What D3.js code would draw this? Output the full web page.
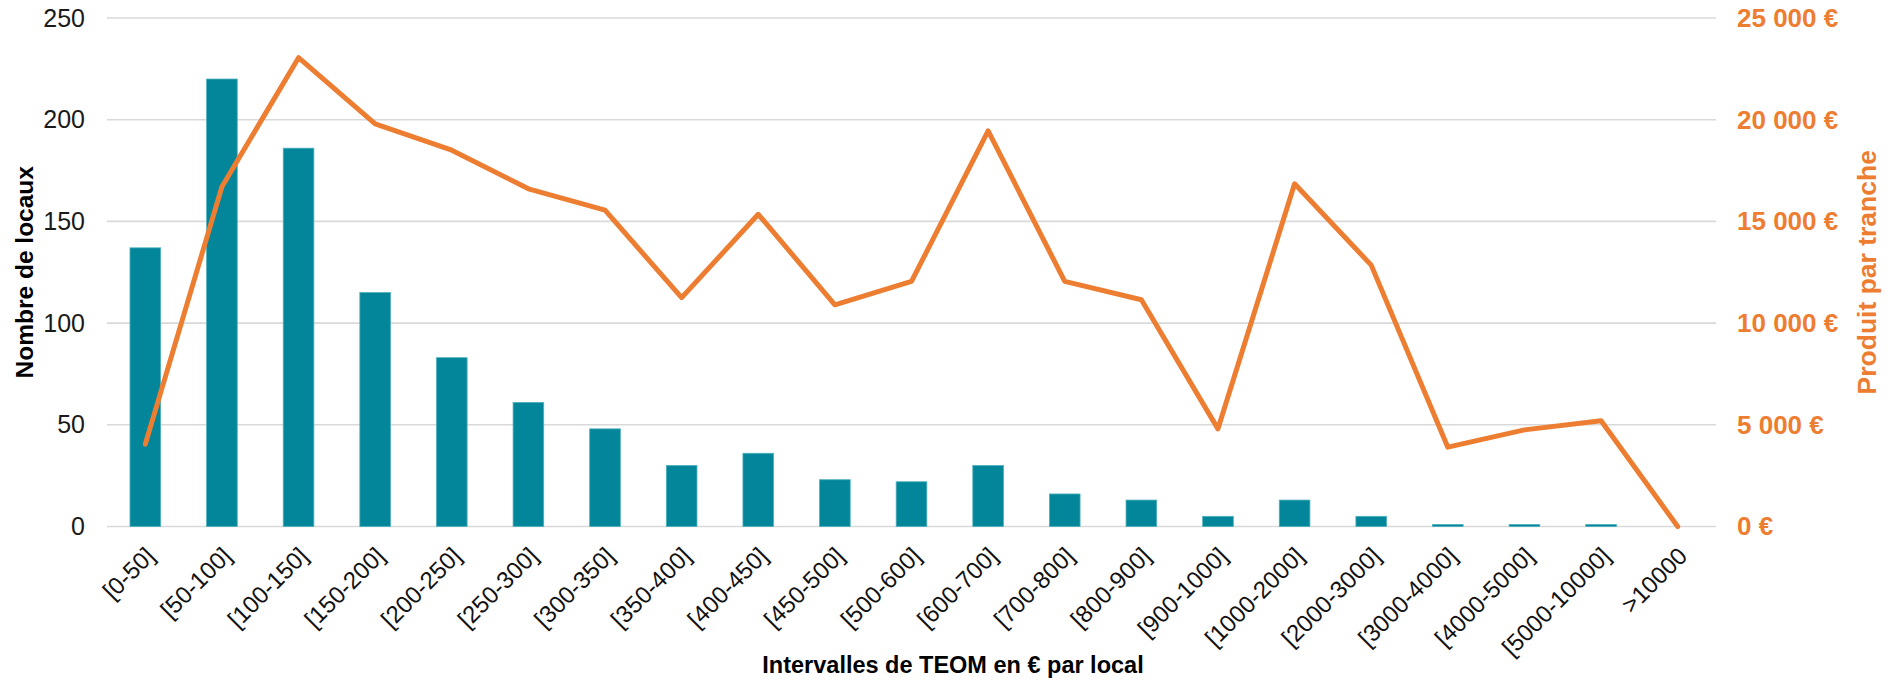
<!DOCTYPE html>
<html>
<head>
<meta charset="utf-8">
<script src="https://cdn.jsdelivr.net/npm/d3@7"></script>
<style>
  body { margin: 0; background: #fff; }
  svg text { font-family: "Liberation Sans", Arial, sans-serif; }
</style>
</head>
<body>
<svg id="chart" width="1892" height="681"></svg>
<script>
var categories = ["[0-50]", "[50-100]", "[100-150]", "[150-200]", "[200-250]", "[250-300]",
  "[300-350]", "[350-400]", "[400-450]", "[450-500]", "[500-600]", "[600-700]", "[700-800]",
  "[800-900]", "[900-1000]", "[1000-2000]", "[2000-3000]", "[3000-4000]", "[4000-5000]",
  "[5000-10000]", ">10000"];

var nbLocaux = [137, 220, 186, 115, 83, 61, 48, 30, 36, 23, 22, 30, 16, 13, 5, 13, 5, 1, 1, 1, 0];

var produit = [4050, 16700, 23050, 19800, 18500, 16600, 15550, 11250, 15350, 10900, 12050,
  19450, 12050, 11150, 4800, 16850, 12850, 3900, 4750, 5200, 0];

var leftTicks = [0, 50, 100, 150, 200, 250];
var rightTicks = [0, 5000, 10000, 15000, 20000, 25000];

var svg = d3.select("#chart"),
    margin = {top: 18, right: 176, bottom: 154.5, left: 107},
    width  = +svg.attr("width")  - margin.left - margin.right,
    height = +svg.attr("height") - margin.top  - margin.bottom;

var teal = "#038699",
    orange = "#ED7D31";

var x = d3.scaleBand().domain(categories).range([0, width])
    .paddingInner(0.6).paddingOuter(0.3);
var y = d3.scaleLinear().domain([0, 250]).range([height, 0]);
var y2 = d3.scaleLinear().domain([0, 25000]).range([height, 0]);

var fr = d3.formatLocale({decimal: ",", thousands: " ", grouping: [3], currency: ["", " €"]});
var euro = fr.format("$,");

var g = svg.append("g")
    .attr("transform", "translate(" + margin.left + "," + margin.top + ")");

// gridlines
g.append("g").selectAll("line")
  .data(leftTicks)
  .enter().append("line")
    .attr("x1", 0).attr("x2", width)
    .attr("y1", function(d) { return y(d); })
    .attr("y2", function(d) { return y(d); })
    .attr("stroke", "#d9d9d9")
    .attr("stroke-width", 1.6);

// bars
g.append("g").selectAll("rect")
  .data(nbLocaux)
  .enter().append("rect")
    .attr("x", function(d, i) { return x(categories[i]); })
    .attr("y", function(d) { return y(d); })
    .attr("width", x.bandwidth())
    .attr("height", function(d) { return height - y(d); })
    .attr("fill", teal)
    .attr("stroke", function(d) { return d > 0 ? "#4fb0bd" : "none"; })
    .attr("stroke-width", 0.8);

// line
var line = d3.line()
    .x(function(d, i) { return x(categories[i]) + x.bandwidth() / 2; })
    .y(function(d) { return y2(d); });

g.append("path")
    .datum(produit)
    .attr("fill", "none")
    .attr("stroke", orange)
    .attr("stroke-width", 5)
    .attr("stroke-linejoin", "round")
    .attr("stroke-linecap", "round")
    .attr("d", line);

// axes
var yAxis = g.append("g")
    .call(d3.axisLeft(y).tickValues(leftTicks).tickSize(0).tickPadding(22));
yAxis.select(".domain").remove();
yAxis.selectAll("text")
    .attr("font-size", "25px")
    .attr("fill", "#1a1a1a");

var y2Axis = g.append("g")
    .attr("transform", "translate(" + width + ",0)")
    .call(d3.axisRight(y2).tickValues(rightTicks).tickSize(0).tickPadding(21).tickFormat(euro));
y2Axis.select(".domain").remove();
y2Axis.selectAll("text")
    .attr("font-size", "26px")
    .attr("font-weight", "bold")
    .attr("fill", orange);

var xAxis = g.append("g")
    .attr("transform", "translate(0," + height + ")")
    .call(d3.axisBottom(x).tickSize(0));
xAxis.select(".domain").remove();
xAxis.selectAll("text")
    .attr("x", 0).attr("y", 0)
    .attr("dy", "0.35em")
    .attr("text-anchor", "end")
    .attr("transform", "translate(5,25) rotate(-45)")
    .attr("font-size", "24px")
    .attr("fill", "#111");

// titles
svg.append("text")
    .attr("transform", "translate(24," + (margin.top + height / 2) + ") rotate(-90)")
    .attr("dy", "0.35em")
    .attr("text-anchor", "middle")
    .attr("font-size", "24.5px")
    .attr("font-weight", "bold")
    .attr("fill", "#000")
    .text("Nombre de locaux");

svg.append("text")
    .attr("transform", "translate(1867," + (margin.top + height / 2) + ") rotate(-90)")
    .attr("dy", "0.35em")
    .attr("text-anchor", "middle")
    .attr("font-size", "26.5px")
    .attr("font-weight", "bold")
    .attr("fill", orange)
    .text("Produit par tranche");

svg.append("text")
    .attr("x", 953)
    .attr("y", 673)
    .attr("text-anchor", "middle")
    .attr("font-size", "23.5px")
    .attr("font-weight", "bold")
    .attr("fill", "#000")
    .text("Intervalles de TEOM en € par local");
</script>
</body>
</html>
